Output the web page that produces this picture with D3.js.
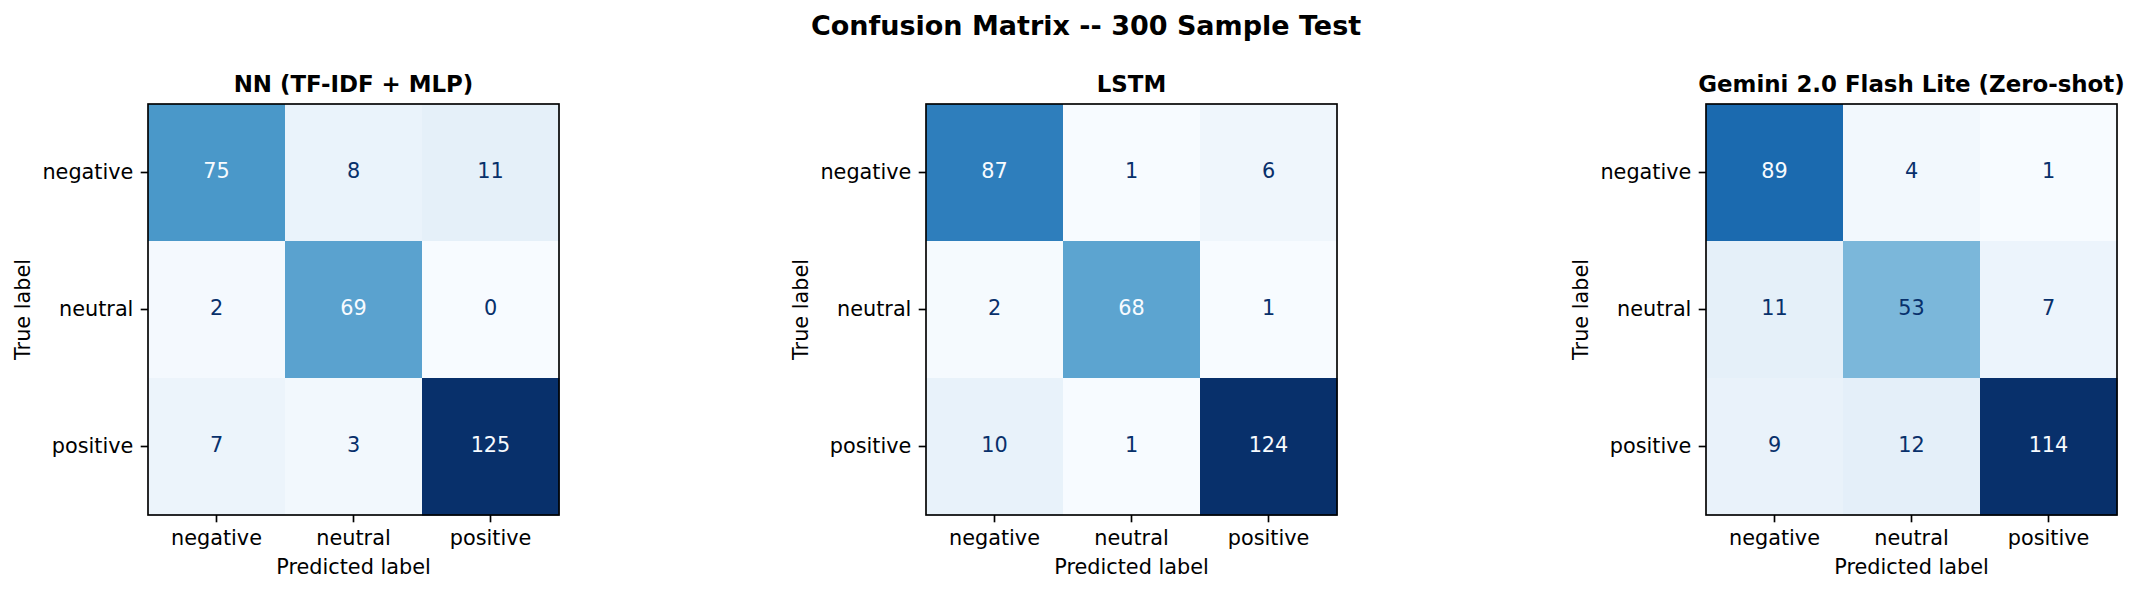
<!DOCTYPE html>
<html>
<head>
<meta charset="utf-8">
<script src="https://cdn.jsdelivr.net/npm/d3@7"></script>
<style>
  html, body { margin: 0; padding: 0; background: #ffffff; }
  svg { display: block; }
  text { font-family: "DejaVu Sans", sans-serif; fill: #000; }
</style>
</head>
<body>
<svg id="chart" width="2138" height="593"></svg>
<script>
// ---- data ----
const classes = ["negative", "neutral", "positive"];
const modelTitles = ["NN (TF-IDF + MLP)", "LSTM", "Gemini 2.0 Flash Lite (Zero-shot)"];
const nnMatrix = [[75, 8, 11], [2, 69, 0], [7, 3, 125]];
const lstmMatrix = [[87, 1, 6], [2, 68, 1], [10, 1, 124]];
const geminiMatrix = [[89, 4, 1], [11, 53, 7], [9, 12, 114]];
const matrices = [nnMatrix, lstmMatrix, geminiMatrix];
const suptitle = "Confusion Matrix -- 300 Sample Test";
const xAxisLabel = "Predicted label";
const yAxisLabel = "True label";
// matplotlib "Blues" anchor colours
const bluesStops = ["#f7fbff", "#deebf7", "#c6dbef", "#9ecae1", "#6baed6", "#4292c6", "#2171b5", "#08519c", "#08306b"];

// ---- layout ----
const W = 2138, H = 593;
const panelLeft = [148, 926, 1706];
const axTop = 104;
const axSize = 411;
const tickLen = 7.3, tickPad = 7.3;
const fs = 20.8;

const svg = d3.select("#chart");
svg.append("rect").attr("width", W).attr("height", H).attr("fill", "#fff");

const blues = d3.scaleLinear()
  .domain(d3.range(bluesStops.length).map(i => i / (bluesStops.length - 1)))
  .range(bluesStops)
  .interpolate(d3.interpolateRgb)
  .clamp(true);

svg.append("text")
  .attr("x", 1086).attr("y", 35)
  .attr("text-anchor", "middle")
  .style("font-size", "27px").style("font-weight", "bold")
  .text(suptitle);

matrices.forEach((m, k) => {
  const g = svg.append("g").attr("transform", `translate(${panelLeft[k]},${axTop})`);
  const x = d3.scaleBand().domain(classes).range([0, axSize]);
  const y = d3.scaleBand().domain(classes).range([0, axSize]);
  const flat = m.flat();
  const vmin = d3.min(flat), vmax = d3.max(flat);
  const norm = d3.scaleLinear().domain([vmin, vmax]).range([0, 1]);
  const thresh = (vmin + vmax) / 2;

  const cells = [];
  m.forEach((row, i) => row.forEach((v, j) => cells.push({ t: classes[i], p: classes[j], v })));

  g.selectAll("rect.cell").data(cells).enter().append("rect")
    .attr("class", "cell")
    .attr("x", d => x(d.p)).attr("y", d => y(d.t))
    .attr("width", x.bandwidth() + 0.5).attr("height", y.bandwidth() + 0.5)
    .attr("fill", d => blues(norm(d.v)));

  g.selectAll("text.val").data(cells).enter().append("text")
    .attr("class", "val")
    .attr("x", d => x(d.p) + x.bandwidth() / 2)
    .attr("y", d => y(d.t) + y.bandwidth() / 2)
    .attr("text-anchor", "middle")
    .attr("dy", "0.28em")
    .style("font-size", fs + "px")
    .style("fill", d => d.v < thresh ? blues(1) : blues(0))
    .text(d => d.v);

  // border
  g.append("rect")
    .attr("x", 0).attr("y", 0).attr("width", axSize).attr("height", axSize)
    .attr("fill", "none").attr("stroke", "#000").attr("stroke-width", 1.67);

  const xAx = g.append("g").attr("transform", `translate(0,${axSize})`)
    .call(d3.axisBottom(x).tickSize(tickLen).tickPadding(tickPad + 1).tickSizeOuter(0));
  const yAx = g.append("g")
    .call(d3.axisLeft(y).tickSize(tickLen).tickPadding(tickPad).tickSizeOuter(0));
  [xAx, yAx].forEach(a => {
    a.select(".domain").remove();
    a.selectAll(".tick line").attr("stroke", "#000").attr("stroke-width", 1.67);
    a.selectAll(".tick text").style("font-size", fs + "px").style("font-family", "DejaVu Sans").attr("fill", "#000");
  });

  g.append("text")
    .attr("x", axSize / 2).attr("y", -12.5)
    .attr("text-anchor", "middle")
    .style("font-size", "22.9px").style("font-weight", "bold")
    .text(modelTitles[k]);

  g.append("text")
    .attr("x", axSize / 2).attr("y", 470)
    .attr("text-anchor", "middle")
    .style("font-size", fs + "px")
    .text(xAxisLabel);

  g.append("text")
    .attr("transform", `translate(-118,${axSize / 2}) rotate(-90)`)
    .attr("text-anchor", "middle")
    .style("font-size", fs + "px")
    .text(yAxisLabel);
});
</script>
</body>
</html>
